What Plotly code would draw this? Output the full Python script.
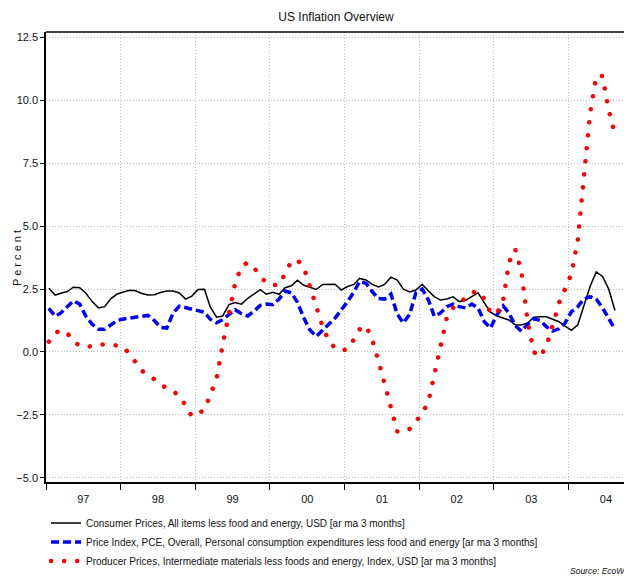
import pandas as pd
import plotly.graph_objects as go

months = pd.date_range(start="1997-01-01", periods=92, freq="MS") + pd.Timedelta(days=14)

cpi_core = [2.53, 2.26, 2.33, 2.40, 2.57, 2.55, 2.33, 2.00, 1.75, 1.80, 2.12, 2.30,
            2.38, 2.45, 2.43, 2.32, 2.26, 2.27, 2.36, 2.42, 2.42, 2.34, 2.10, 2.22,
            2.48, 2.49, 1.80, 1.38, 1.43, 1.88, 1.96, 1.90, 2.13, 2.28, 2.47, 2.29,
            2.37, 2.29, 2.55, 2.63, 2.85, 2.65, 2.58, 2.48, 2.68, 2.69, 2.69, 2.46,
            2.60, 2.68, 2.92, 2.86, 2.68, 2.58, 2.68, 2.97, 2.85, 2.49, 2.38, 2.46,
            2.69, 2.42, 2.20, 2.06, 2.10, 2.19, 2.00, 2.05, 2.20, 2.35, 1.95, 1.58,
            1.43, 1.35, 1.27, 1.08, 1.07, 1.15, 1.38, 1.40, 1.40, 1.30, 1.20, 1.03,
            0.86, 1.08, 1.80, 2.60, 3.18, 3.00, 2.50, 1.65]

pce_core = [1.73, 1.42, 1.55, 1.80, 2.03, 1.90, 1.42, 1.10, 0.90, 0.90, 1.08, 1.25,
            1.31, 1.35, 1.40, 1.44, 1.45, 1.25, 0.98, 0.95, 1.55, 1.82, 1.76, 1.68,
            1.62, 1.58, 1.30, 1.16, 1.28, 1.50, 1.68, 1.52, 1.43, 1.62, 1.85, 1.90,
            1.88, 2.10, 2.42, 2.35, 1.97, 1.35, 0.87, 0.62, 0.85, 1.10, 1.35, 1.65,
            2.00, 2.38, 2.80, 2.73, 2.40, 2.12, 2.10, 2.30, 1.50, 1.15, 1.50, 2.35,
            2.50, 2.05, 1.42, 1.55, 1.80, 1.90, 1.80, 1.75, 1.90, 1.75, 1.20, 0.95,
            1.47, 1.83, 1.55, 1.05, 0.82, 1.10, 1.32, 1.25, 1.00, 0.83, 0.92, 1.15,
            1.60, 1.80, 2.10, 2.20, 2.10, 1.75, 1.35, 0.90]

ppi_intermediate = [0.41, 0.75, 0.87, 0.75, 0.42, 0.25, 0.19, 0.24, 0.30, 0.30, 0.30, 0.25,
                    0.20, -0.10, -0.43, -0.75, -0.90, -1.07, -1.28, -1.45, -1.55, -1.75, -2.12, -2.55,
                    -2.45, -2.28, -1.72, -1.05, 0.28, 1.50, 2.73, 3.40, 3.55, 3.35, 3.05, 2.72,
                    2.66, 2.66, 3.10, 3.60, 3.65, 3.35, 2.60, 1.85, 1.00, 0.45, 0.15, 0.05,
                    0.12, 0.50, 0.90, 1.05, 0.50, -0.35, -1.28, -2.35, -3.15, -3.18, -3.05, -2.75,
                    -2.45, -1.95, -0.90, 0.30, 1.35, 1.75, 1.95, 2.15, 2.35, 2.42, 2.10, 1.55,
                    1.52, 2.05, 3.55, 4.08, 3.20, 1.20, 0.00, -0.20, 0.25, 1.05, 1.95, 2.50,
                    3.10, 4.45, 6.90, 9.45, 10.95, 10.95, 9.60, 8.65]

names = [
    "Consumer Prices, All items less food and energy, USD [ar ma 3 months]",
    "Price Index, PCE, Overall, Personal consumption expenditures less food and energy [ar ma 3 months]",
    "Producer Prices, Intermediate materials less foods and energy, Index, USD [ar ma 3 months]",
]
y_ticks = [-5.0, -2.5, 0.0, 2.5, 5.0, 7.5, 10.0, 12.5]

FONT = "Liberation Sans, Arial, sans-serif"

fig = go.Figure()
fig.add_trace(go.Scatter(x=months, y=cpi_core, name=names[0], mode="lines",
                         line=dict(color="black", width=1.5)))
fig.add_trace(go.Scatter(x=months, y=pce_core, name=names[1], mode="lines",
                         line=dict(color="#0000ff", width=3.5, dash="8px,4px")))
fig.add_trace(go.Scatter(x=months, y=ppi_intermediate, name=names[2], mode="lines",
                         line=dict(color="#ff0000", width=4.5, dash="0.1px,13px")))

fig.update_layout(
    width=624, height=576,
    margin=dict(l=46, r=0, t=32, b=94, autoexpand=False),
    paper_bgcolor="white", plot_bgcolor="white",
    font=dict(family=FONT, size=11, color="#111111"),
    title=dict(text="US Inflation Overview", x=336 / 624, xanchor="center", y=1 - 17 / 576, yanchor="middle",
               font=dict(size=12, family=FONT, color="#111111")),
    showlegend=True,
    legend=dict(x=0.0, xanchor="left", y=-0.059, yanchor="top", orientation="v",
                font=dict(size=10, family=FONT), bgcolor="rgba(0,0,0,0)",
                tracegroupgap=0),
    xaxis=dict(type="date", range=["1997-01-01", "2004-09-28"], automargin=False,
               dtick="M12", tick0="1997-01-01", tickformat="%y", ticklabelmode="period",
               showgrid=True, gridcolor="#bdbdbd", griddash="1px,2px", gridwidth=1,
               ticks="outside", ticklen=6, tickcolor="black",
               showline=True, linecolor="black", linewidth=1.5,
               tickfont=dict(size=11, family=FONT), zeroline=False),
    yaxis=dict(range=[-5.16, 12.7], tickvals=y_ticks, tickformat=".1f", automargin=False,
               showgrid=True, gridcolor="#bdbdbd", griddash="1px,2px", gridwidth=1,
               ticks="outside", ticklen=4, tickcolor="black",
               showline=True, linecolor="black", linewidth=1.5,
               tickfont=dict(size=11, family=FONT), zeroline=False),
)

fig.add_shape(type="line", xref="paper", yref="paper", x0=0, x1=1, y0=1, y1=1,
              line=dict(color="black", width=1.5))

fig.add_annotation(text="P e r c e n t", xref="paper", yref="paper", textangle=-90,
                   x=(17 - 46) / 578, y=(482 - 258) / 450, xanchor="center", yanchor="middle",
                   showarrow=False, font=dict(size=11, family=FONT, color="#111111"))

fig.add_annotation(text="<i>Source: EcoWin</i>", xref="paper", yref="paper",
                   x=(568 - 46) / 578, y=-(571 - 482) / 450, xanchor="left", yanchor="middle",
                   showarrow=False, font=dict(size=8.5, family=FONT, color="#111111"))

post = """
document.body.style.margin = '0';
document.body.style.padding = '0';
var gd = document.getElementById('{plot_id}');
function fixCaps(){
  gd.querySelectorAll('path').forEach(function(p){
    var s = p.style.stroke;
    if (s === 'rgb(255, 0, 0)') { p.style.strokeLinecap = 'round'; }
  });
}
fixCaps();
gd.on('plotly_afterplot', fixCaps);
"""

fig.write_html("out.html", post_script=post, config={"displayModeBar": False})
